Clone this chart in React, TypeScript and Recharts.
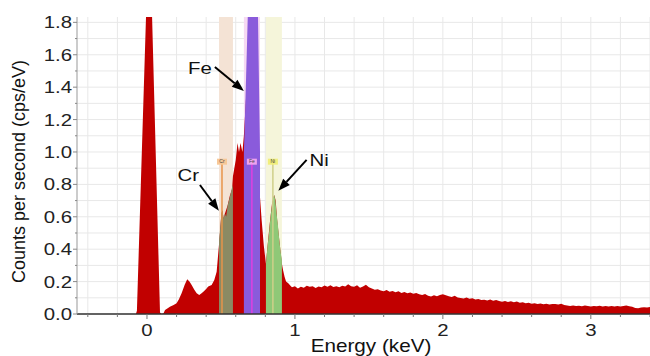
import React from "react"
import { ComposedChart, Area, XAxis, YAxis, CartesianGrid, ReferenceArea, ReferenceLine } from "recharts"

// energy (keV), counts per second (cps/eV)
const spectrum: [number, number][] = [
  [-0.473, 0], [-0.075, 0], [-0.068, 0.02], [-0.006, 1.85], [0.01, 2.4], [0.034, 1.85], [0.088, 0.01],
  [0.1, 0], [0.112, 0.005], [0.122, 0.025], [0.14, 0.035], [0.155, 0.045], [0.18, 0.055], [0.2, 0.066],
  [0.215, 0.09], [0.234, 0.128], [0.255, 0.18], [0.272, 0.214], [0.287, 0.2], [0.302, 0.179], [0.32, 0.15],
  [0.336, 0.128], [0.353, 0.117], [0.367, 0.126], [0.381, 0.138], [0.4, 0.155], [0.414, 0.169], [0.437, 0.179],
  [0.455, 0.21], [0.471, 0.26], [0.487, 0.43], [0.495, 0.52], [0.503, 0.62], [0.51, 0.64], [0.518, 0.59],
  [0.527, 0.62], [0.545, 0.67], [0.56, 0.73], [0.575, 0.77], [0.581, 0.85], [0.6, 0.95], [0.612, 1.055],
  [0.622, 1.0], [0.632, 1.055], [0.645, 1.0], [0.655, 1.1], [0.68, 1.5], [0.705, 1.8], [0.73, 1.5],
  [0.755, 1.0], [0.764, 0.72], [0.775, 0.58], [0.79, 0.42], [0.804, 0.31], [0.815, 0.42], [0.83, 0.56],
  [0.845, 0.68], [0.86, 0.735], [0.87, 0.7], [0.88, 0.58], [0.895, 0.45], [0.912, 0.31], [0.92, 0.27],
  [0.93, 0.23], [0.94, 0.2], [0.955, 0.19], [0.97, 0.175], [0.98, 0.165], [1.0, 0.172], [1.02, 0.158],
  [1.04, 0.168], [1.06, 0.162], [1.08, 0.175], [1.1, 0.168], [1.12, 0.172], [1.14, 0.16], [1.16, 0.17],
  [1.18, 0.165], [1.2, 0.176], [1.22, 0.168], [1.24, 0.178], [1.26, 0.166], [1.28, 0.172], [1.3, 0.165],
  [1.32, 0.175], [1.34, 0.17], [1.36, 0.184], [1.38, 0.172], [1.4, 0.168], [1.42, 0.178], [1.44, 0.162],
  [1.46, 0.17], [1.48, 0.18], [1.5, 0.165], [1.52, 0.158], [1.54, 0.15], [1.56, 0.152], [1.58, 0.145],
  [1.6, 0.14], [1.62, 0.148], [1.64, 0.138], [1.66, 0.142], [1.68, 0.135], [1.7, 0.14], [1.72, 0.13],
  [1.74, 0.136], [1.76, 0.128], [1.78, 0.132], [1.8, 0.125], [1.82, 0.13], [1.84, 0.122], [1.86, 0.118],
  [1.88, 0.124], [1.9, 0.112], [1.92, 0.108], [1.94, 0.115], [1.96, 0.11], [1.98, 0.118], [2.0, 0.122],
  [2.02, 0.116], [2.04, 0.11], [2.06, 0.105], [2.08, 0.112], [2.1, 0.102], [2.12, 0.098], [2.14, 0.096],
  [2.16, 0.102], [2.18, 0.094], [2.2, 0.097], [2.22, 0.09], [2.24, 0.093], [2.26, 0.086], [2.28, 0.088],
  [2.3, 0.084], [2.32, 0.089], [2.34, 0.082], [2.36, 0.087], [2.38, 0.08], [2.4, 0.076], [2.42, 0.081],
  [2.44, 0.074], [2.46, 0.078], [2.48, 0.072], [2.5, 0.077], [2.52, 0.07], [2.54, 0.073], [2.56, 0.066],
  [2.58, 0.07], [2.6, 0.064], [2.62, 0.067], [2.64, 0.062], [2.66, 0.065], [2.68, 0.06], [2.7, 0.063],
  [2.72, 0.059], [2.74, 0.061], [2.76, 0.062], [2.78, 0.058], [2.8, 0.064], [2.82, 0.056], [2.84, 0.052],
  [2.86, 0.05], [2.88, 0.053], [2.9, 0.049], [2.92, 0.051], [2.94, 0.048], [2.96, 0.052], [2.98, 0.05],
  [3.0, 0.047], [3.02, 0.05], [3.04, 0.048], [3.06, 0.051], [3.08, 0.047], [3.1, 0.049], [3.12, 0.046],
  [3.14, 0.05], [3.16, 0.047], [3.18, 0.049], [3.2, 0.046], [3.22, 0.05], [3.24, 0.052], [3.26, 0.048],
  [3.28, 0.045], [3.3, 0.037], [3.32, 0.035], [3.34, 0.04], [3.36, 0.042], [3.38, 0.04], [3.4, 0.043],
]

// element fits (L lines)
const crFit: [number, number][] = [
  [0.487, 0.45], [0.495, 0.53], [0.503, 0.62], [0.51, 0.64], [0.518, 0.59], [0.527, 0.62],
  [0.535, 0.6], [0.545, 0.67], [0.56, 0.72], [0.572, 0.77], [0.581, 0.8],
]
const feFit: [number, number][] = [
  [0.655, 1.0], [0.668, 1.4], [0.682, 1.86], [0.705, 3.2], [0.75, 1.86], [0.764, 1.0],
]
const niFit: [number, number][] = [
  [0.804, 0.31], [0.815, 0.42], [0.825, 0.5], [0.835, 0.6], [0.845, 0.67], [0.853, 0.72], [0.86, 0.735],
  [0.868, 0.7], [0.876, 0.62], [0.885, 0.55], [0.895, 0.45], [0.904, 0.38], [0.912, 0.33],
]

const elements = ["Cr", "Fe", "Ni"]
const windowFrom = [0.487, 0.655, 0.804]
const windowTo = [0.581, 0.764, 0.912]
const markerAt = [0.507, 0.709, 0.851]

const xTicks = [-0.4, -0.2, 0, 0.2, 0.4, 0.6, 0.8, 1, 1.2, 1.4, 1.6, 1.8, 2, 2.2, 2.4, 2.6, 2.8, 3, 3.2, 3.4]
const xLabels = [0, 1, 2, 3]
const yTicks = [0, 0.1, 0.2, 0.3, 0.4, 0.5, 0.6, 0.7, 0.8, 0.9, 1, 1.1, 1.2, 1.3, 1.4, 1.5, 1.6, 1.7, 1.8]
const yLabels = [0, 0.2, 0.4, 0.6, 0.8, 1, 1.2, 1.4, 1.6, 1.8]

const FONT = "'Liberation Sans', Arial, sans-serif"
const RED = "#c10000"
const bandFill: Record<string, string> = { Cr: "#f4e3d5", Fe: "#f6d9f3", Ni: "#f5f5da" }
const tagFill: Record<string, string> = { Cr: "#f7c898", Fe: "#f0a2ee", Ni: "#f1ee7c" }
const tagLine: Record<string, string> = { Cr: "#e8944a", Fe: "#e040e0", Ni: "#cfcf8a" }

// callouts (keV, cps) with text offsets in px
const callouts = [
  { text: "Fe", from: [0.459, 1.525], to: [0.655, 1.377], dx: -3, dy: 1, anchor: "end" },
  { text: "Cr", from: [0.358, 0.796], to: [0.486, 0.638], dx: -1, dy: -10, anchor: "end" },
  { text: "Ni", from: [1.079, 0.951], to: [0.888, 0.761], dx: 3, dy: 0, anchor: "start" },
]

const rows = (pts: [number, number][]) => pts.map(([e, c]) => ({ e, c }))

const XTick = (props: any) => {
  const { x, y, payload } = props
  const major = xLabels.includes(payload.value)
  return (
    <g>
      <line x1={x} x2={x} y1={y} y2={y + (major ? 5 : 3)} stroke="#777" />
      {major && (
        <text transform={`translate(${x},${y + 22}) scale(1.2,1)`} textAnchor="middle" fontSize={17} fill="#222" fontFamily={FONT}>
          {payload.value}
        </text>
      )}
    </g>
  )
}

const YTick = (props: any) => {
  const { x, y, payload } = props
  const major = yLabels.includes(payload.value)
  return (
    <g>
      <line x1={x - (major ? 4 : 2)} x2={x} y1={y} y2={y} stroke="#888" />
      {major && (
        <text transform={`translate(${x - 5},${y + 6}) scale(1.2,1)`} textAnchor="end" fontSize={17} fill="#222" fontFamily={FONT}>
          {payload.value.toFixed(1)}
        </text>
      )}
    </g>
  )
}

const Arrow = (props: any) => {
  const { x1, y1, x2, y2, text, dx, dy, anchor } = props
  const a = Math.atan2(y2 - y1, x2 - x1)
  const L = 12, W = 4.5
  const bx = x2 - L * Math.cos(a), by = y2 - L * Math.sin(a)
  const pts = `${x2},${y2} ${bx + W * Math.sin(a)},${by - W * Math.cos(a)} ${bx - W * Math.sin(a)},${by + W * Math.cos(a)}`
  return (
    <g>
      <line x1={x1} y1={y1} x2={bx} y2={by} stroke="#000" strokeWidth={2} />
      <polygon points={pts} fill="#000" />
      <text transform={`translate(${x1 + dx},${y1 + dy + 6}) scale(1.2,1)`} textAnchor={anchor} fontSize={17} fill="#111" fontFamily={FONT}>
        {text}
      </text>
    </g>
  )
}

const Tag = (props: any) => {
  const { x1, y1, x2, y2, name } = props
  return (
    <g>
      <line x1={x1} y1={y1} x2={x2} y2={y2} stroke={tagLine[name]} strokeWidth={1.5} />
      <rect x={x2 - 5} y={y2 - 3} width={10} height={6} fill={tagFill[name]} />
      <text x={x2} y={y2 + 1.8} textAnchor="middle" fontSize={5} fill="#444" fontFamily={FONT}>
        {name}
      </text>
    </g>
  )
}

export default function App() {
  return (
    <div style={{ position: "absolute", left: 0, top: 0, width: 650, height: 356, background: "#fff" }}>
      <style>{"body{margin:0}"}</style>
      <ComposedChart width={650} height={356} margin={{ top: 17, right: 0, bottom: 0, left: 0 }}>
        <CartesianGrid stroke="#e8e8e8" horizontalValues={yTicks} verticalValues={xTicks} />
        {elements.map((el, i) => (
          <ReferenceArea key={el} x1={windowFrom[i]} x2={windowTo[i]} y1={0} y2={1.833} fill={bandFill[el]} fillOpacity={1} stroke="none" />
        ))}
        <XAxis
          type="number"
          dataKey="e"
          domain={[-0.473, 3.4]}
          allowDataOverflow
          ticks={xTicks}
          interval={0}
          tick={<XTick />}
          tickLine={false}
          tickSize={0}
          tickMargin={0}
          height={42}
          axisLine={{ stroke: "#333", strokeWidth: 1.5 }}
          label={{
            content: () => (
              <text transform="translate(371,352) scale(1.15,1)" textAnchor="middle" fontSize={18} fill="#111" fontFamily={FONT}>
                Energy (keV)
              </text>
            ),
          }}
        />
        <YAxis
          type="number"
          domain={[0, 1.833]}
          allowDataOverflow
          ticks={yTicks}
          interval={0}
          tick={<YTick />}
          tickLine={false}
          tickSize={0}
          tickMargin={0}
          width={77}
          axisLine={{ stroke: "#999" }}
          label={{
            content: () => (
              <text transform="translate(25,171.5) rotate(-90)" textAnchor="middle" fontSize={18} fill="#111" fontFamily={FONT}>
                Counts per second (cps/eV)
              </text>
            ),
          }}
        />
        <Area data={rows(spectrum)} dataKey="c" type="linear" fill={RED} fillOpacity={1} stroke="none" dot={false} activeDot={false} isAnimationActive={false} />
        <Area data={rows(crFit)} dataKey="c" type="linear" fill="#8b8a63" fillOpacity={1} stroke="none" dot={false} activeDot={false} isAnimationActive={false} />
        <Area data={rows(feFit)} dataKey="c" type="linear" fill="#8a5bdb" fillOpacity={1} stroke="none" dot={false} activeDot={false} isAnimationActive={false} />
        <Area data={rows(niFit)} dataKey="c" type="linear" fill="#8fc877" fillOpacity={1} stroke="none" dot={false} activeDot={false} isAnimationActive={false} />
        {elements.map((el, i) => (
          <ReferenceLine
            key={"tag" + el}
            segment={[{ x: markerAt[i], y: 0 }, { x: markerAt[i], y: 0.94 }]}
            shape={(p: any) => <Tag {...p} name={el} />}
          />
        ))}
        {callouts.map((c) => (
          <ReferenceLine
            key={"arrow" + c.text}
            segment={[{ x: c.from[0], y: c.from[1] }, { x: c.to[0], y: c.to[1] }]}
            shape={(p: any) => <Arrow {...p} text={c.text} dx={c.dx} dy={c.dy} anchor={c.anchor} />}
          />
        ))}
      </ComposedChart>
    </div>
  )
}
